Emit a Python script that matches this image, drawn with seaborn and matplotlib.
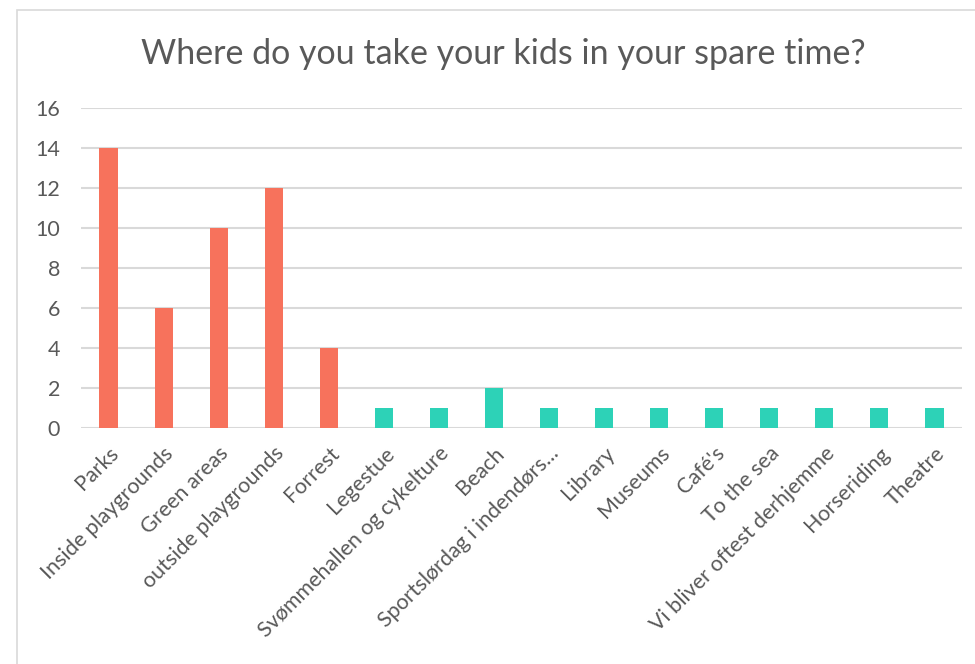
import matplotlib
matplotlib.use("Agg")
import matplotlib.pyplot as plt
import seaborn as sns
import pandas as pd
from matplotlib.patches import Rectangle

categories = [
    "Parks", "Inside playgrounds", "Green areas", "outside playgrounds",
    "Forrest", "Legestue", "Svømmehallen og cykelture", "Beach",
    "Sportslørdag i indendørs...", "Library", "Museums", "Café's",
    "To the sea", "Vi bliver oftest derhjemme", "Horseriding", "Theatre",
]
counts = [14, 6, 10, 12, 4, 1, 1, 2, 1, 1, 1, 1, 1, 1, 1, 1]
groups = ["main"] * 5 + ["other"] * 11
group_colors = {"main": "#F7725C", "other": "#2DD2B7"}
y_ticks = [0, 2, 4, 6, 8, 10, 12, 14, 16]
title = "Where do you take your kids in your spare time?"

df = pd.DataFrame({"place": categories, "count": counts, "group": groups})

sns.set_theme(style="white")
plt.rcParams["font.family"] = ["Lato", "DejaVu Sans"]

text_color = "#595959"
grid_color = "#D9D9D9"

fig = plt.figure(figsize=(9.75, 6.64), dpi=100)
fig.patch.set_facecolor("white")

# thin outer chart frame
fig.add_artist(Rectangle((17 / 975, -0.05), 1.2, 1 - 10 / 664 + 0.05,
                         transform=fig.transFigure, fill=False,
                         edgecolor="#D9D9D9", linewidth=1.2))

ax = fig.add_axes([81 / 975, 1 - 428 / 664, (962 - 81) / 975, 320 / 664])
sns.barplot(data=df, x="place", y="count", hue="group", palette=group_colors,
            dodge=False, width=0.33, legend=False, ax=ax, saturation=1,
            linewidth=0)

ax.set_ylim(0, 16)
ax.set_xlim(-0.5, len(categories) - 0.5)
ax.set_yticks(y_ticks)
ax.set_yticklabels([str(t) for t in y_ticks])
ax.yaxis.grid(True, color=grid_color, linewidth=1.5)
ax.set_axisbelow(True)
for s in ax.spines.values():
    s.set_visible(False)
ax.axhline(0, color=grid_color, linewidth=2, zorder=0.5)

ax.set_xlabel("")
ax.set_ylabel("")
ax.tick_params(axis="y", length=0, pad=15, labelsize=15.5, labelcolor=text_color)
ax.tick_params(axis="x", length=0, pad=11, labelsize=15.5, labelcolor=text_color)
for lab in ax.get_xticklabels():
    lab.set_rotation(45)
    lab.set_ha("right")
    lab.set_va("top")
    lab.set_rotation_mode("anchor")

fig.text(503 / 975, 1 - 54 / 664, title, ha="center", va="center",
         fontsize=24.5, color=text_color)

fig.savefig("out.png", dpi=100, facecolor="white")
